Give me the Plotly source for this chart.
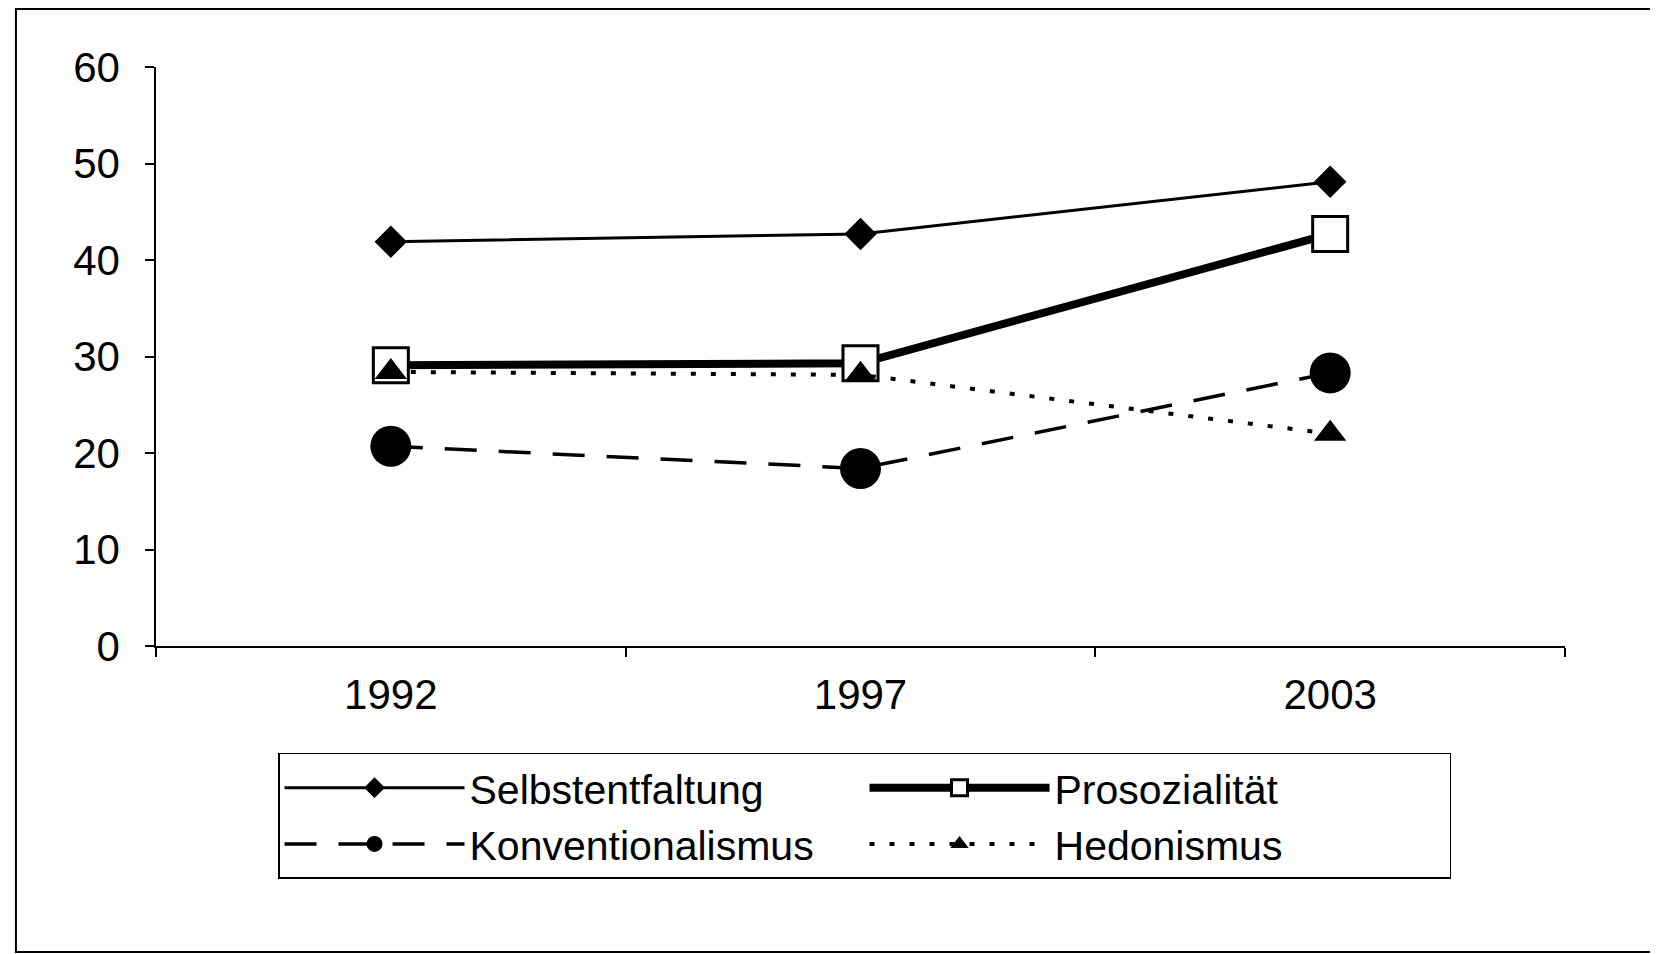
import plotly.graph_objects as go

years = ["1992", "1997", "2003"]
selbstentfaltung = [41.9, 42.7, 48.1]
prosozialitaet = [29.1, 29.3, 42.7]
konventionalismus = [20.7, 18.4, 28.3]
hedonismus = [28.4, 28.1, 22.0]

FONT = "Liberation Sans, Arial, sans-serif"

fig = go.Figure()
fig.add_trace(go.Scatter(
    x=years, y=selbstentfaltung, name="Selbstentfaltung", mode="lines+markers",
    line=dict(color="black", width=3),
    marker=dict(symbol="diamond", size=25, color="black"),
))
fig.add_trace(go.Scatter(
    x=years, y=prosozialitaet, name="Prosozialität", mode="lines+markers",
    line=dict(color="black", width=8),
    marker=dict(symbol="square", size=35, color="white", line=dict(color="black", width=3)),
))
fig.add_trace(go.Scatter(
    x=years, y=konventionalismus, name="Konventionalismus", mode="lines+markers",
    line=dict(color="black", width=3.5, dash="32px,22px"),
    marker=dict(symbol="circle", size=41, color="black"),
))
fig.add_trace(go.Scatter(
    x=years, y=hedonismus, name="Hedonismus", mode="lines+markers",
    line=dict(color="black", width=4, dash="5px,15px"),
    marker=dict(symbol="triangle-up", size=28, color="black"),
))

fig.update_layout(
    width=1650, height=946,
    paper_bgcolor="white", plot_bgcolor="white",
    margin=dict(l=148, r=93, t=59, b=308),
    font=dict(family=FONT, size=42, color="black"),
    showlegend=True,
    legend=dict(
        orientation="h", x=0.0866, xanchor="left", y=-0.1848, yanchor="top",
        bordercolor="black", borderwidth=1.5, bgcolor="white",
        font=dict(family=FONT, size=41, color="black"),
        entrywidth=390, entrywidthmode="pixels",
        itemwidth=180,
    ),
    xaxis=dict(
        type="category", range=[-0.5, 2.5], tickson="boundaries",
        ticks="outside", ticklen=9, tickwidth=1.5, tickcolor="black",
        showline=True, linecolor="black", linewidth=1.5,
        showgrid=False, zeroline=False, ticklabelstandoff=11,
    ),
    yaxis=dict(
        range=[0, 60], dtick=10, tick0=0,
        ticks="outside", ticklen=9, tickwidth=1.5, tickcolor="black",
        showline=True, linecolor="black", linewidth=1.5,
        showgrid=False, zeroline=False, ticklabelstandoff=17,
    ),
    shapes=[dict(
        type="rect", xref="paper", yref="paper",
        x0=-0.0994, x1=1.0636, y0=-0.5285, y1=1.100,
        line=dict(color="black", width=2), fillcolor="rgba(0,0,0,0)", layer="below",
    )],
)

fig.write_html("out.html")
